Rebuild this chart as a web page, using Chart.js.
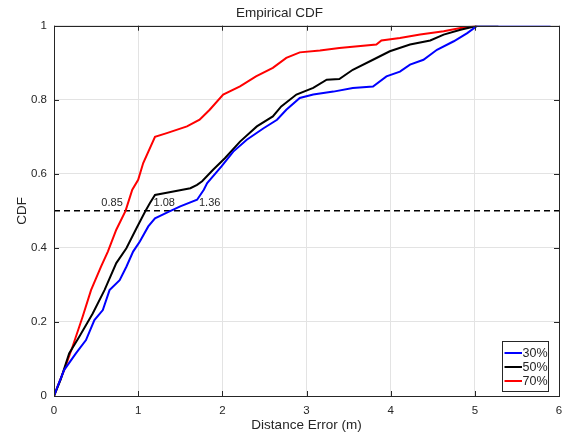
<!DOCTYPE html>
<html>
<head>
<meta charset="utf-8">
<script src="https://cdn.jsdelivr.net/npm/chart.js@4/dist/chart.umd.min.js"></script>
<style>
  html, body { margin: 0; padding: 0; background: #fff; }
  #wrap { width: 562px; height: 436px; position: relative; }
</style>
</head>
<body>
<div id="wrap"><canvas id="c" width="562" height="436"></canvas></div>
<script>
// ---- Data ----
const seriesLabels = ['30%', '50%', '70%'];
const seriesColors = ['#0000ff', '#000000', '#ff0000'];

const x30 = [0, 0.05, 0.12, 0.26, 0.38, 0.48, 0.58, 0.66, 0.78, 0.86, 0.94, 1.02, 1.12, 1.20, 1.36, 1.50, 1.70, 1.78, 1.82, 1.99, 2.13, 2.29, 2.49, 2.65, 2.76, 2.92, 3.08, 3.32, 3.55, 3.79, 3.95, 4.11, 4.23, 4.39, 4.55, 4.75, 4.91, 5.03, 5.90];
const y30 = [0, 0.03, 0.07, 0.115, 0.151, 0.205, 0.232, 0.286, 0.313, 0.349, 0.39, 0.417, 0.458, 0.480, 0.497, 0.512, 0.530, 0.557, 0.575, 0.62, 0.66, 0.692, 0.723, 0.746, 0.773, 0.805, 0.814, 0.822, 0.832, 0.836, 0.863, 0.876, 0.895, 0.908, 0.935, 0.958, 0.98, 1.0, 1.0];

const x50 = [0, 0.08, 0.18, 0.30, 0.46, 0.60, 0.74, 0.86, 0.98, 1.08, 1.14, 1.20, 1.34, 1.62, 1.70, 1.76, 1.89, 2.03, 2.21, 2.41, 2.60, 2.70, 2.88, 3.08, 3.24, 3.39, 3.55, 3.79, 3.99, 4.23, 4.47, 4.63, 4.83, 5.03, 5.28];
const y50 = [0, 0.045, 0.115, 0.16, 0.223, 0.286, 0.359, 0.399, 0.453, 0.497, 0.521, 0.543, 0.549, 0.561, 0.570, 0.58, 0.611, 0.642, 0.687, 0.728, 0.755, 0.782, 0.814, 0.832, 0.854, 0.856, 0.881, 0.908, 0.931, 0.949, 0.960, 0.976, 0.989, 1.0, 1.0];

const x70 = [0, 0.05, 0.12, 0.22, 0.34, 0.44, 0.56, 0.64, 0.74, 0.85, 0.93, 1.0, 1.06, 1.20, 1.34, 1.58, 1.73, 1.85, 2.01, 2.21, 2.40, 2.60, 2.76, 2.92, 3.16, 3.39, 3.83, 3.89, 4.11, 4.35, 4.63, 4.83, 5.03];
const y70 = [0, 0.03, 0.07, 0.133, 0.214, 0.286, 0.35, 0.39, 0.449, 0.50, 0.557, 0.584, 0.629, 0.70, 0.71, 0.728, 0.746, 0.773, 0.814, 0.836, 0.863, 0.886, 0.913, 0.928, 0.933, 0.94, 0.949, 0.96, 0.967, 0.976, 0.985, 0.994, 1.0];

const thresholdX = [0, 6];
const thresholdY = [0.5, 0.5];

const medianLabels = ['0.85', '1.08', '1.36'];
const medianLabelX = [0.69, 1.31, 1.85];
const medianLabelY = [0.52, 0.52, 0.52];

const xTicks = [0, 1, 2, 3, 4, 5, 6];
const yTicks = [0, 0.2, 0.4, 0.6, 0.8, 1];

// ---- Build ----
const FONT = '"Liberation Sans", Arial, Helvetica, sans-serif';
const TXT = '#262626';
const toPts = (xs, ys) => xs.map((x, i) => ({ x: x, y: ys[i] }));
const seriesX = [x30, x50, x70];
const seriesY = [y30, y50, y70];

const datasets = seriesLabels.map((lab, i) => ({
  label: lab,
  data: toPts(seriesX[i], seriesY[i]),
  borderColor: seriesColors[i],
  backgroundColor: seriesColors[i],
  borderWidth: 2,
  pointRadius: 0,
  tension: 0,
  fill: false
}));
datasets.push({
  label: 'median',
  data: toPts(thresholdX, thresholdY),
  borderColor: '#000000',
  borderWidth: 1.5,
  borderDash: [6, 4],
  pointRadius: 0,
  fill: false
});

const boxPlugin = {
  id: 'matlabBox',
  afterDatasetsDraw(chart) {
    const { ctx, chartArea: a, scales } = chart;
    ctx.save();
    ctx.strokeStyle = '#262626';
    ctx.lineWidth = 1;
    ctx.beginPath();
    xTicks.forEach(v => {
      const px = Math.round(scales.x.getPixelForValue(v)) + 0.5;
      ctx.moveTo(px, a.bottom); ctx.lineTo(px, a.bottom - 5);
      ctx.moveTo(px, a.top); ctx.lineTo(px, a.top + 5);
    });
    yTicks.forEach(v => {
      const py = Math.round(scales.y.getPixelForValue(v)) + 0.5;
      ctx.moveTo(a.left, py); ctx.lineTo(a.left + 5, py);
      ctx.moveTo(a.right, py); ctx.lineTo(a.right - 5, py);
    });
    ctx.stroke();
    ctx.strokeStyle = '#262626';
    ctx.strokeRect(Math.round(a.left) + 0.5, Math.round(a.top) + 0.5,
                   Math.round(a.right) - Math.round(a.left), Math.round(a.bottom) - Math.round(a.top));
    ctx.fillStyle = TXT;
    ctx.font = '11px ' + FONT;
    ctx.textAlign = 'center';
    ctx.textBaseline = 'middle';
    medianLabels.forEach((t, i) => {
      ctx.fillText(t, scales.x.getPixelForValue(medianLabelX[i]), scales.y.getPixelForValue(medianLabelY[i]));
    });
    const bx = Math.round(a.right) - 56.5, by = Math.round(a.bottom) - 54.5, bw = 46, bh = 50;
    ctx.fillStyle = '#ffffff';
    ctx.fillRect(bx, by, bw, bh);
    ctx.strokeStyle = '#262626';
    ctx.lineWidth = 1;
    ctx.strokeRect(bx, by, bw, bh);
    ctx.font = '12.5px ' + FONT;
    ctx.textAlign = 'left';
    seriesLabels.forEach((lab, i) => {
      const yy = by + 11.5 + i * 14;
      ctx.strokeStyle = seriesColors[i];
      ctx.lineWidth = 2;
      ctx.beginPath();
      ctx.moveTo(bx + 2, yy); ctx.lineTo(bx + 19.5, yy);
      ctx.stroke();
      ctx.fillStyle = TXT;
      ctx.fillText(lab, bx + 20, yy + 0.5);
    });
    ctx.restore();
  }
};

new Chart(document.getElementById('c'), {
  type: 'line',
  data: { datasets: datasets },
  plugins: [boxPlugin],
  options: {
    responsive: false,
    animation: false,
    layout: { padding: { left: 0, right: 3, top: 0, bottom: 0 } },
    plugins: {
      legend: { display: false },
      tooltip: { enabled: false },
      title: {
        display: true,
        text: 'Empirical CDF',
        color: TXT,
        font: { family: FONT, size: 13.5, weight: 'normal', lineHeight: 1.2 },
        padding: { top: 5, bottom: 4.5 }
      }
    },
    scales: {
      x: {
        type: 'linear',
        min: 0, max: 6,
        afterBuildTicks: s => { s.ticks = xTicks.map(v => ({ value: v })); },
        afterFit: s => { s.height = 40; s.paddingLeft = 0; s.paddingRight = 0; },
        grid: { color: '#e3e3e3', drawTicks: false, lineWidth: 1 },
        border: { display: false },
        ticks: { color: TXT, font: { family: FONT, size: 11.5 }, padding: 8, maxRotation: 0, callback: v => String(v) },
        title: {
          display: true, text: 'Distance Error (m)', color: TXT,
          font: { family: FONT, size: 13.5, lineHeight: 1.2 },
          padding: { top: 0, bottom: 3 }
        }
      },
      y: {
        type: 'linear',
        min: 0, max: 1,
        afterBuildTicks: s => { s.ticks = yTicks.map(v => ({ value: v })); },
        afterFit: s => { s.width = 54; s.paddingTop = 0; s.paddingBottom = 0; },
        grid: { color: '#e3e3e3', drawTicks: false, lineWidth: 1 },
        border: { display: false },
        ticks: { color: TXT, font: { family: FONT, size: 11.5 }, padding: 7, callback: v => String(v) },
        title: {
          display: true, text: 'CDF', color: TXT,
          font: { family: FONT, size: 13.5, lineHeight: 1.2 },
          padding: { top: 14, bottom: 0 }
        }
      }
    }
  }
});
</script>
</body>
</html>
